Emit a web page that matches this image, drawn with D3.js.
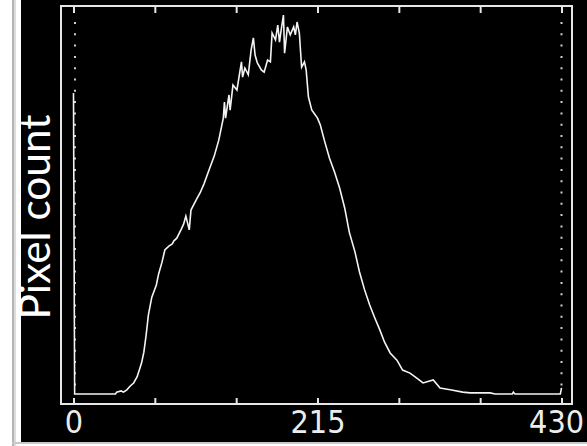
<!DOCTYPE html>
<html>
<head>
  <meta charset="UTF-8">
  <title>Pixel count histogram</title>
  <script src="https://d3js.org/d3.v7.min.js"></script>
  <style>
    body { margin: 0; background: #fff; }
    svg { display: block; }
    .tick text { font-family: "Liberation Sans Narrow", "DejaVu Sans Condensed", sans-serif; font-size: 32px; fill: #ececec; }
    .tick line { stroke: #e6e6e6; stroke-width: 2px; }
    .ylabel { font-family: Lato, "Open Sans", sans-serif; fill: #fff; }
  </style>
</head>
<body>
  <div id="chart"></div>
  <script>
    // histogram: bin (intensity) and pixel count (relative, peak ~100)
    const bins = [0, 1, 37, 38, 42, 44, 47, 50, 53, 56, 58, 60, 62, 64, 66, 69, 73, 75, 78, 80.5,
      84, 87, 88.5, 91, 95, 97, 99, 102, 103.5, 108, 111.5, 115, 119.5, 124, 128, 132, 133, 134,
      137, 138, 140.5, 144, 148, 149, 151, 154, 156.5, 158.5, 160, 162, 165.5, 168, 171, 173.5,
      175, 178, 180, 181.5, 183, 185, 186, 188.5, 191, 194, 195.5, 197, 199, 201, 203.5, 205,
      207, 210, 212, 215, 217.5, 221, 225.5, 230, 234.5, 239, 243, 248, 252, 256.5, 261, 265.5,
      270, 274, 279, 285, 290, 296.5, 302.5, 308, 317, 323, 332, 343, 349.5, 367, 371.5, 386.7,
      387.6, 389, 429, 430];
    const counts = [79.2, 0, 0, 0.5, 0.8, 0.5, 1.1, 2.1, 2.9, 4.5, 6.3, 8.2, 11, 15.5, 20.8, 25.5, 28.7, 31.6, 34.7, 37.9,
      38.9, 39.5, 40.3, 41, 43.4, 44.7, 46.8, 43.2, 48.4, 51, 52.9, 55.3, 59, 62.6, 66.8, 72.6, 76.8, 72.6,
      78.7, 74.7, 81.3, 80, 87.4, 83.4, 85.8, 84, 90.5, 93.7, 89.2, 87.1, 85.3, 84.7, 87.9, 87.4,
      95, 93.2, 97.1, 92.6, 95.8, 99.7, 89.7, 96.6, 94.5, 96.6, 94.5, 97.9, 95, 86, 87.4, 85.3,
      78.2, 74.7, 73.9, 72.6, 70.8, 66.8, 62.1, 58.4, 54.2, 48.9, 42.6, 37.4, 32.1, 27.4, 23.4, 20,
      16.8, 13.7, 10.8, 8.9, 6.3, 5.5, 4.2, 2.9, 3.7, 1.6, 1.1, 0.5, 0.3, 0.3, 0, 0,
      0.5, 0, 0, 1.6];

    const tickValues = d3.range(7).map(i => i * 430 / 6);
    const tickLabels = { 0: "0", 215: "215", 430: "430" };

    const W = 587, H = 446;
    const svg = d3.select("#chart").append("svg").attr("width", W).attr("height", H);

    // window chrome around the black panel
    svg.append("rect").attr("x", 12).attr("y", 0).attr("width", 2).attr("height", H).attr("fill", "#b4b4b4");
    svg.append("rect").attr("x", 14).attr("y", 0).attr("width", 2).attr("height", H).attr("fill", "#dcdcdc");
    svg.append("rect").attr("x", 21).attr("y", 0).attr("width", W - 21).attr("height", 442).attr("fill", "#000");
    svg.append("rect").attr("x", 12).attr("y", 442).attr("width", W - 12).attr("height", 2).attr("fill", "#c8c8c8");

    const x = d3.scaleLinear().domain([0, 430]).range([73.5, 561.5]);
    const y = d3.scaleLinear().domain([0, 100]).range([394, 14]);

    // plot frame
    svg.append("rect")
      .attr("x", 61).attr("y", 6).attr("width", 511).attr("height", 398)
      .attr("fill", "none").attr("stroke", "#e6e6e6").attr("stroke-width", 2);

    // bottom axis (ticks point inward)
    const bottomAxis = svg.append("g").attr("transform", "translate(0,404)")
      .call(d3.axisBottom(x).tickValues(tickValues).tickSizeInner(-6).tickSizeOuter(0)
        .tickPadding(6).tickFormat(v => tickLabels[Math.round(v)] || ""));
    bottomAxis.select(".domain").remove();
    bottomAxis.selectAll(".tick text").filter(d => d === 430).attr("text-anchor", "end").attr("dx", 22);

    const topAxis = svg.append("g").attr("transform", "translate(0,7)")
      .call(d3.axisTop(x).tickValues(tickValues).tickSizeInner(-6).tickSizeOuter(0).tickFormat(""));
    topAxis.select(".domain").remove();

    // dotted limit markers
    [0, 430].forEach(v => {
      svg.append("line")
        .attr("x1", x(v) + (v === 0 ? 1.5 : 0)).attr("x2", x(v) + (v === 0 ? 1.5 : 0))
        .attr("y1", 22).attr("y2", 394)
        .attr("stroke", "#cfcfcf").attr("stroke-width", 2)
        .attr("stroke-dasharray", "2,9.3");
    });

    // histogram trace
    const pts = bins.map((b, i) => [b, counts[i]]);
    svg.append("path")
      .datum(pts)
      .attr("fill", "none")
      .attr("stroke", "#f4f4f4")
      .attr("stroke-width", 1.6)
      .attr("d", d3.line().x(d => x(d[0])).y(d => y(d[1])));

    // y label
    const lab = svg.append("text")
      .attr("class", "ylabel")
      .attr("transform", "translate(50,217) rotate(-90)")
      .attr("text-anchor", "middle")
      .attr("font-size", 40)
      .text("Pixel count");
    const len = lab.node().getComputedTextLength();
    lab.attr("font-size", 40 * 205 / len);
  </script>
</body>
</html>
